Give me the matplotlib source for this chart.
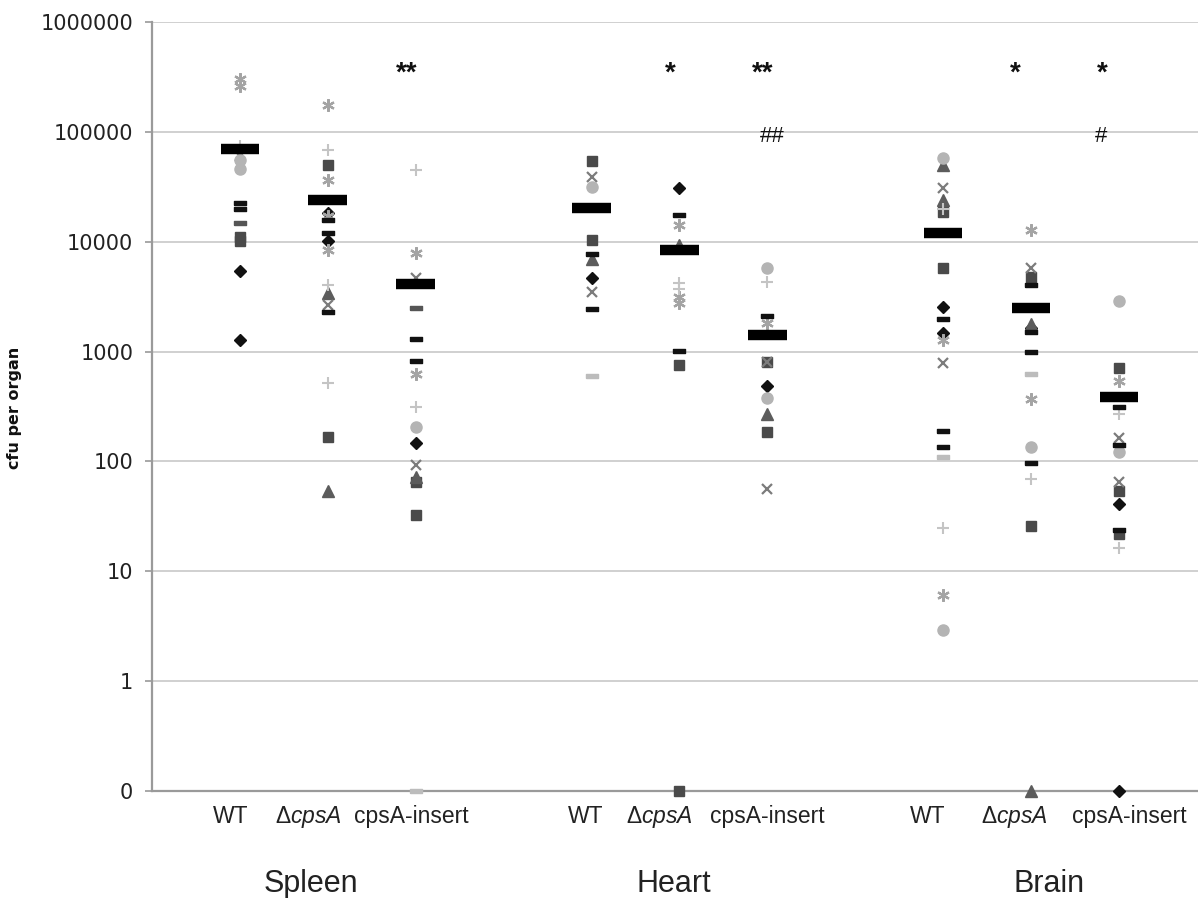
import matplotlib.pyplot as plt
from matplotlib.transforms import blended_transform_factory
from matplotlib.ticker import NullLocator

plt.rcParams['mathtext.fontset'] = 'custom'
plt.rcParams['mathtext.rm'] = 'Liberation Sans'
plt.rcParams['mathtext.it'] = 'Liberation Sans:italic'

# cfu per organ, one list per column; a count of 0 is plotted at 0.1 (the "0" line)
spleen_wt = [300000, 260000, 75000, 60000, 55000, 46000, 22500, 19800, 14800, 11000, 10200, 5400, 1270]
spleen_wt_mk = "**+xoo--=ssDD"
spleen_del = [175000, 68000, 49900, 36400, 18200, 17000, 15700, 12000, 10100, 8400, 4030, 3400, 2650, 2290, 515, 166, 53.6]
spleen_del_mk = "*+s*D*--D*+^x-+s^"
spleen_ins = [44900, 7870, 4700, 2490, 1300, 818, 622, 312, 205, 147, 92, 71.8, 65, 32.4, 0.1]
spleen_ins_mk = "+*x=--*+oDx^ss_"

heart_wt = [54200, 38700, 31400, 10300, 7700, 7000, 4650, 3480, 2430, 597]
heart_wt_mk = "sxos-^Dx-_"
heart_del = [30800, 17500, 14200, 9300, 4200, 3700, 3170, 2760, 1010, 751, 0.1]
heart_del_mk = "D-*^++**-ss"
heart_ins = [5760, 4290, 2100, 1820, 800, 800, 484, 377, 269, 184, 55.8]
heart_ins_mk = "o+-*sxDo^sx"

brain_wt = [57700, 49900, 30800, 23900, 20000, 18600, 5760, 2570, 1960, 1470, 1270, 784, 188, 134, 110, 24.7, 6.04, 2.9]
brain_wt_mk = "o^x^+ssD-D*x--_+*o"
brain_del = [12800, 5760, 4760, 4000, 1800, 1630, 1500, 990, 622, 368, 135, 96, 68.9, 25.7, 0.1]
brain_del_mk = "*xs-^D--_*o-+s^"
brain_ins = [2880, 707, 537, 312, 270, 163, 140, 121, 64.7, 53.6, 40.7, 23.6, 22, 16.2, 0.1]
brain_ins_mk = "os*-+x-oxsD-s+D"

means = [69600, 23900, 4110, 20200, 8380, 1410, 11960, 2480, 385]

strains = ['WT', 'Δ$\\mathit{cpsA}$', 'cpsA-insert']
organs = ['Spleen', 'Heart', 'Brain']
sig_marks = ['**', '*', '**', '##', '*', '*', '#']

columns = [spleen_wt, spleen_del, spleen_ins, heart_wt, heart_del, heart_ins,
           brain_wt, brain_del, brain_ins]
column_marks = [spleen_wt_mk, spleen_del_mk, spleen_ins_mk, heart_wt_mk, heart_del_mk,
                heart_ins_mk, brain_wt_mk, brain_del_mk, brain_ins_mk]

# layout: column centres, label centres, annotation spots
col_x = [1, 2, 3, 5, 6, 7, 9, 10, 11]
label_x = [0.90, 1.78, 2.95, 4.93, 5.77, 7.0, 8.82, 9.81, 11.12]
organ_x = [1.81, 5.94, 10.2]
sig_x = [2.90, 5.90, 6.95, 7.06, 9.82, 10.81, 10.80]
sig_y = [340000, 340000, 340000, 90000, 340000, 340000, 90000]

dash = [(-1, -0.35), (1, -0.35), (1, 0.35), (-1, 0.35), (-1, -0.35)]
styles = {
    'D': dict(marker='D', color='#111111', ms=6.5),
    's': dict(marker='s', color='#4a4a4a', ms=7.5),
    '^': dict(marker='^', color='#5c5c5c', ms=8),
    'x': dict(marker='x', color='#7c7c7c', ms=7, mew=1.6),
    '*': dict(marker=(6, 2, 0), color='#a4a4a4', ms=9, mew=1.6),
    'o': dict(marker='o', color='#b4b4b4', ms=8),
    '+': dict(marker='+', color='#c4c4c4', ms=9, mew=1.5),
    '-': dict(marker=dash, color='#111111', ms=8),
    '=': dict(marker=dash, color='#555555', ms=8),
    '_': dict(marker=dash, color='#bcbcbc', ms=8),
}

fig = plt.figure(figsize=(11.98, 8.98), dpi=100)
ax = fig.add_axes([0.1269, 0.1192, 0.8731, 0.8563])

for x, vals, marks in zip(col_x, columns, column_marks):
    for code, st in styles.items():
        ys = [v for v, m in zip(vals, marks) if m == code]
        if ys:
            ax.plot([x] * len(ys), ys, linestyle='none', mec=st['color'], mfc=st['color'],
                    clip_on=False, zorder=3,
                    **{k: v for k, v in st.items() if k != 'color'})

ax.hlines(means, [x - 0.22 for x in col_x], [x + 0.22 for x in col_x],
          colors='black', lw=7.5, capstyle='butt', zorder=4)

for x, y, s in zip(sig_x, sig_y, sig_marks):
    if s.startswith('#'):
        ax.text(x, y, s, ha='center', va='center', fontsize=16,
                family='Liberation Sans', color='#111111')
    else:
        ax.text(x, y, s, ha='center', va='center', fontsize=20, fontweight='bold',
                family='Liberation Sans', color='#111111')

ax.set_yscale('log')
ax.set_ylim(0.1, 1e6)
ax.set_xlim(0, 11.9)
ticks = [0.1, 1, 10, 100, 1000, 10000, 100000, 1000000]
ax.set_yticks(ticks, ['0', '1', '10', '100', '1000', '10000', '100000', '1000000'])
ax.yaxis.set_minor_locator(NullLocator())
ax.set_xticks([])
ax.tick_params(axis='y', direction='out', length=5, width=1.2, color='#9a9a9a',
               labelsize=15, pad=8.5, labelcolor='#222222')
ax.yaxis.grid(True, color='#c8c8c8', lw=1.2)
ax.set_axisbelow(True)
for side in ['top', 'right']:
    ax.spines[side].set_visible(False)
for side in ['left', 'bottom']:
    ax.spines[side].set_color('#9a9a9a')
    ax.spines[side].set_linewidth(1.6)

trans = blended_transform_factory(ax.transData, fig.transFigure)
for x, s in zip(label_x, strains * 3):
    ax.text(x, 1 - 823 / 898, s, transform=trans, ha='center', va='baseline',
            fontsize=16.5, family='Liberation Sans', color='#222222')
for x, s in zip(organ_x, organs):
    ax.text(x, 1 - 892 / 898, s, transform=trans, ha='center', va='baseline',
            fontsize=22, family='Liberation Sans', color='#222222')

fig.text(15 / 1198, 1 - 408 / 898, 'cfu per organ', rotation=90, ha='center', va='center',
         fontsize=11.5, fontweight='bold', color='#111111')

fig.savefig('out.png', dpi=100)
